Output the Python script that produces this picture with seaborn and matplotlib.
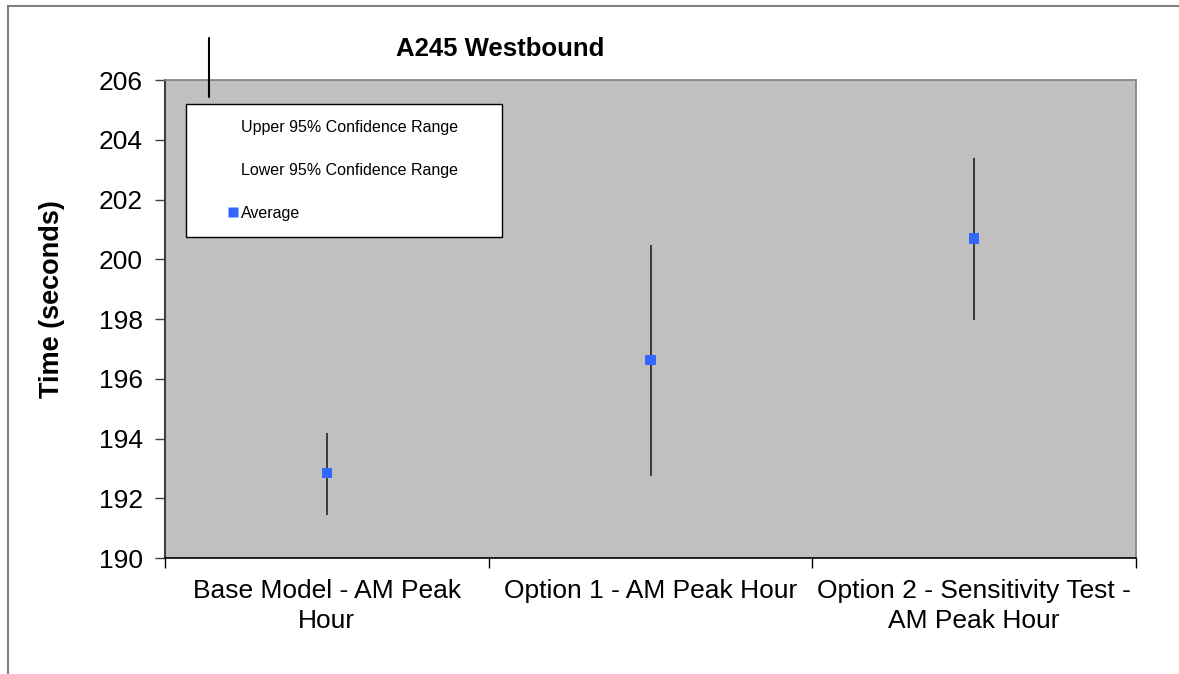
import numpy as np
import pandas as pd
import matplotlib
matplotlib.use('Agg')
import matplotlib.pyplot as plt
import seaborn as sns
from matplotlib.lines import Line2D
from matplotlib.patches import Rectangle

# Chart data
scenarios = ['Base Model - AM Peak\nHour', 'Option 1 - AM Peak Hour',
             'Option 2 - Sensitivity Test -\nAM Peak Hour']
average = [192.85, 196.62, 200.69]
upper_95 = [194.17, 200.47, 203.38]
lower_95 = [191.44, 192.75, 197.96]
y_ticks = [190, 192, 194, 196, 198, 200, 202, 204, 206]

df = pd.DataFrame({'pos': np.arange(len(scenarios)), 'scenario': scenarios,
                   'Average': average, 'upper': upper_95, 'lower': lower_95})

sns.set_style('white')
plt.rcParams['font.family'] = ['Liberation Sans', 'DejaVu Sans']
plt.rcParams['text.color'] = 'black'
plt.rcParams['xtick.labelcolor'] = 'black'
plt.rcParams['ytick.labelcolor'] = 'black'

W, H = 1179, 674
fig = plt.figure(figsize=(W / 100, H / 100), dpi=100)

# outer chart border (left and top visible)
fig.add_artist(Rectangle((8 / W, -0.1), 1.2, 1 - 6 / H + 0.1, transform=fig.transFigure,
                         fill=False, edgecolor='#808080', lw=1.5))

ax = fig.add_axes([165 / W, 1 - 558 / H, 971 / W, 478 / H])
ax.set_facecolor('#C0C0C0')

# confidence ranges
ax.vlines(df['pos'], df['lower'], df['upper'], color='#222222', lw=1.2, zorder=2)
# averages
sns.scatterplot(data=df, x='pos', y='Average', marker='s', s=55, color='#3366FF',
                edgecolor='none', ax=ax, zorder=3, legend=False)

ax.set_xlim(-0.5, len(scenarios) - 0.5)
ax.set_ylim(190, 206)
ax.set_yticks(y_ticks)
ax.set_yticklabels([str(v) for v in y_ticks], fontsize=19)
ax.tick_params(axis='y', direction='out', length=7, width=1, color='#404040', pad=9, left=True)

# category boundaries as major ticks, labels at centres
ax.set_xticks(np.arange(-0.5, len(scenarios), 1.0))
ax.set_xticklabels([])
ax.set_xticks(df['pos'], minor=True)
ax.set_xticklabels(scenarios, minor=True, fontsize=19, linespacing=1.3)
ax.tick_params(axis='x', which='major', direction='out', length=7, width=1, color='black', bottom=True)
ax.tick_params(axis='x', which='minor', length=0, pad=15)
ax.set_xlabel('')
ax.set_ylabel('')

for side in ['top', 'right']:
    ax.spines[side].set_color('#808080')
    ax.spines[side].set_linewidth(1.2)
ax.spines['left'].set_color('#404040')
ax.spines['left'].set_linewidth(1.5)
ax.spines['bottom'].set_color('black')
ax.spines['bottom'].set_linewidth(1.2)

handles = [Line2D([], [], linestyle='none'),
           Line2D([], [], linestyle='none'),
           Line2D([], [], linestyle='none', marker='s', markersize=7.5,
                  markerfacecolor='#3366FF', markeredgecolor='none')]
labels = ['Upper 95% Confidence Range', 'Lower 95% Confidence Range', 'Average']
leg = ax.legend(handles, labels, loc='upper left', mode='expand',
                bbox_to_anchor=(21 / 971, 0.0, 316 / 971, (558 - 104) / 478),
                borderaxespad=0, fontsize=11.5, frameon=True, fancybox=False,
                framealpha=1, edgecolor='black', borderpad=1.0, handlelength=3.9,
                handletextpad=-1.44, labelspacing=1.75)
leg.get_frame().set_linewidth(1.0)

# stray leader line above the legend in the original
fig.add_artist(Line2D([209 / W, 209 / W], [1 - 38 / H, 1 - 97 / H], transform=fig.transFigure,
                      color='black', lw=1.5))

fig.text(500 / W, 1 - 49 / H, 'A245 Westbound', ha='center', va='center',
         fontsize=18.5, fontweight='bold')
fig.text(52 / W, 1 - 299 / H, 'Time (seconds)', ha='center', va='center',
         rotation=90, fontsize=19.5, fontweight='bold')

fig.savefig('out.png', dpi=100)
